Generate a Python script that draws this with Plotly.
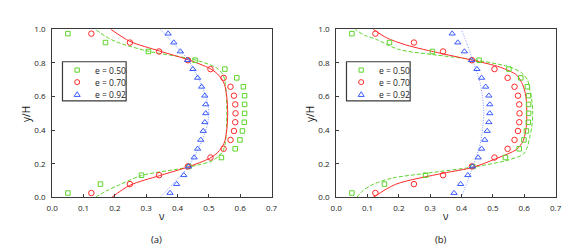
import plotly.graph_objects as go

# ---------------- data ----------------
labels = ["e = 0.50", "e = 0.70", "e = 0.92"]

# experimental points (same in both panels), listed bottom to top
y_exp = [0.026, 0.079, 0.132, 0.184, 0.237, 0.289, 0.342, 0.395, 0.447, 0.500,
         0.553, 0.605, 0.658, 0.711, 0.763, 0.816, 0.868, 0.921, 0.974]
v_exp_050 = [0.050, 0.154, 0.285, 0.436, 0.540, 0.584, 0.599, 0.607, 0.613, 0.614,
             0.614, 0.614, 0.610, 0.589, 0.551, 0.456, 0.307, 0.170, 0.050]
v_exp_070 = [0.125, 0.248, 0.341, 0.433, 0.505, 0.547, 0.569, 0.580, 0.584, 0.585,
             0.584, 0.580, 0.569, 0.547, 0.505, 0.433, 0.341, 0.248, 0.125]
v_exp_092 = [0.376, 0.397, 0.420, 0.435, 0.453, 0.464, 0.474, 0.482, 0.487, 0.490,
             0.490, 0.487, 0.477, 0.464, 0.449, 0.432, 0.409, 0.388, 0.370]

# model curves, panel (a)
ya_050 = [0.00, 0.04, 0.075, 0.13, 0.18, 0.22, 0.27, 0.32, 0.40, 0.50,
          0.60, 0.68, 0.73, 0.77, 0.82, 0.87, 0.925, 0.96, 1.00]
va_050 = [0.138, 0.175, 0.215, 0.285, 0.435, 0.513, 0.543, 0.552, 0.556, 0.557,
          0.556, 0.552, 0.545, 0.525, 0.452, 0.305, 0.205, 0.168, 0.138]
ya_070 = [0.00, 0.072, 0.129, 0.182, 0.233, 0.265, 0.295, 0.33, 0.40, 0.50,
          0.60, 0.67, 0.705, 0.735, 0.767, 0.818, 0.871, 0.928, 1.00]
va_070 = [0.190, 0.248, 0.342, 0.435, 0.503, 0.527, 0.540, 0.550, 0.557, 0.560,
          0.557, 0.550, 0.540, 0.527, 0.503, 0.435, 0.342, 0.248, 0.187]
ya_092 = [0.00, 0.09, 0.18, 0.235, 0.29, 0.34, 0.40, 0.45, 0.50,
          0.55, 0.60, 0.66, 0.71, 0.765, 0.818, 0.91, 1.00]
va_092 = [0.345, 0.390, 0.434, 0.451, 0.466, 0.479, 0.490, 0.497, 0.500,
          0.497, 0.490, 0.479, 0.466, 0.451, 0.434, 0.390, 0.345]

# model curves, panel (b)
yb_050 = [0.00, 0.04, 0.078, 0.115, 0.144, 0.18, 0.22, 0.257, 0.30, 0.352, 0.42, 0.50,
          0.58, 0.648, 0.70, 0.74, 0.775, 0.82, 0.85, 0.88, 0.94, 0.965, 1.00]
vb_050 = [0.066, 0.085, 0.118, 0.180, 0.290, 0.435, 0.545, 0.597, 0.610, 0.617, 0.624, 0.627,
          0.624, 0.617, 0.610, 0.592, 0.555, 0.435, 0.305, 0.200, 0.128, 0.090, 0.060]
yb_070 = [0.00, 0.078, 0.144, 0.178, 0.229, 0.286, 0.33, 0.371, 0.43, 0.50,
          0.57, 0.63, 0.67, 0.727, 0.774, 0.816, 0.856, 0.907, 0.95, 1.00]
vb_070 = [0.118, 0.190, 0.342, 0.435, 0.508, 0.576, 0.595, 0.602, 0.607, 0.608,
          0.607, 0.602, 0.595, 0.576, 0.524, 0.435, 0.336, 0.222, 0.160, 0.118]
yb_092 = [0.00, 0.09, 0.178, 0.25, 0.30, 0.38, 0.50, 0.62, 0.70, 0.75, 0.818, 0.91, 1.00]
vb_092 = [0.399, 0.418, 0.435, 0.448, 0.457, 0.465, 0.471, 0.465, 0.457, 0.448, 0.435, 0.418, 0.399]

x_ticks = [0.0, 0.1, 0.2, 0.3, 0.4, 0.5, 0.6, 0.7]
y_ticks = [0.0, 0.2, 0.4, 0.6, 0.8, 1.0]
panel_labels = ["(a)", "(b)"]

# ---------------- styling ----------------
W, H = 581, 245
GREEN = "#5ed42c"
RED = "#ff2a2a"
BLUE = "#3a5cff"
BLUE_LINE = "#7d97ff"
AXC = "#3a3a3a"
FONT = "Open Sans"

def px(x):
    return x / W

def py(y):
    return 1 - y / H

fig = go.Figure()

panels = [
    dict(xa="x", ya="y", curves=[(ya_050, va_050), (ya_070, va_070), (ya_092, va_092)]),
    dict(xa="x2", ya="y2", curves=[(yb_050, vb_050), (yb_070, vb_070), (yb_092, vb_092)]),
]
exp_sets = [v_exp_050, v_exp_070, v_exp_092]
marker_styles = [
    dict(symbol="square-open", size=4.5, color=GREEN, line=dict(width=1, color=GREEN)),
    dict(symbol="circle-open", size=5.5, color=RED, line=dict(width=1, color=RED)),
    dict(symbol="triangle-up-open", size=5.5, color=BLUE, line=dict(width=1, color=BLUE)),
]
line_styles = [
    dict(color=GREEN, width=1, dash="4px,2px", shape="spline", smoothing=0.8),
    dict(color=RED, width=1, dash="solid", shape="spline", smoothing=0.8),
    dict(color=BLUE_LINE, width=1, dash="1px,1.5px", shape="spline", smoothing=0.8),
]

for p in panels:
    for k in range(3):
        yy, vv = p["curves"][k]
        fig.add_trace(go.Scatter(x=vv, y=yy, mode="lines", line=line_styles[k],
                                 xaxis=p["xa"], yaxis=p["ya"], showlegend=False,
                                 hoverinfo="skip", name=labels[k] + " model"))
    for k in range(3):
        fig.add_trace(go.Scatter(x=exp_sets[k], y=y_exp, mode="markers",
                                 marker=marker_styles[k], xaxis=p["xa"], yaxis=p["ya"],
                                 showlegend=False, name=labels[k]))

axis_common = dict(showline=True, mirror=True, linecolor=AXC, linewidth=1,
                   ticks="inside", ticklen=3, tickcolor=AXC, tickwidth=1,
                   showgrid=False, zeroline=False, tickformat=".1f",
                   tickfont=dict(family=FONT, size=8, color="#1a1a1a"))

plot_x = [(39, 263), (329, 553)]
plot_y = (16, 192)
ydom = [py(plot_y[1]), py(plot_y[0])]

fig.update_layout(
    width=W, height=H, margin=dict(l=0, r=0, t=0, b=0),
    paper_bgcolor="white", plot_bgcolor="white",
    xaxis=dict(domain=[px(plot_x[0][0]), px(plot_x[0][1])], range=[0, 0.7],
               tickvals=x_ticks, anchor="y", ticklabelstandoff=3, **axis_common),
    yaxis=dict(domain=ydom, range=[0, 1], tickvals=y_ticks, anchor="x",
               ticklabelstandoff=4, **axis_common),
    xaxis2=dict(domain=[px(plot_x[1][0]), px(plot_x[1][1])], range=[0, 0.7],
                tickvals=x_ticks, anchor="y2", ticklabelstandoff=3, **axis_common),
    yaxis2=dict(domain=ydom, range=[0, 1], tickvals=y_ticks, anchor="x2",
                ticklabelstandoff=4, **axis_common),
)

annotations = []
shapes = []
mk_colors = [GREEN, RED, BLUE]
for i, (x0, x1) in enumerate(plot_x):
    cx = (x0 + x1) / 2
    # axis titles
    annotations.append(dict(text="ν", x=px(cx), y=py(211), xref="paper", yref="paper",
                            showarrow=False, font=dict(family=FONT, size=10, color="#111"),
                            xanchor="center", yanchor="middle"))
    annotations.append(dict(text="y/H", x=px(x0 - 26), y=py(105), xref="paper", yref="paper",
                            showarrow=False, textangle=-90,
                            font=dict(family=FONT, size=10, color="#111"),
                            xanchor="center", yanchor="middle"))
    annotations.append(dict(text=panel_labels[i], x=px(cx - 5.5), y=py(236.5), xref="paper",
                            yref="paper", showarrow=False,
                            font=dict(family=FONT, size=9.5, color="#111"),
                            xanchor="center", yanchor="middle"))
    # legend box
    lx0 = x0 + 10.5
    lx1 = lx0 + 65
    shapes.append(dict(type="rect", xref="paper", yref="paper",
                       x0=px(lx0), x1=px(lx1), y0=py(91), y1=py(50),
                       line=dict(color=AXC, width=1.2), fillcolor="white", layer="above"))
    rows = [58.7, 71.3, 84.3]
    mx = lx0 + 15
    for k in range(3):
        ry = rows[k]
        c = mk_colors[k]
        if k == 0:
            shapes.append(dict(type="rect", xref="paper", yref="paper",
                               x0=px(mx - 2.2), x1=px(mx + 2.2), y0=py(ry + 2.2), y1=py(ry - 2.2),
                               line=dict(color=c, width=1), layer="above"))
        elif k == 1:
            shapes.append(dict(type="circle", xref="paper", yref="paper",
                               x0=px(mx - 2.6), x1=px(mx + 2.6), y0=py(ry + 2.6), y1=py(ry - 2.6),
                               line=dict(color=c, width=1), layer="above"))
        else:
            path = "M {:.5f},{:.5f} L {:.5f},{:.5f} L {:.5f},{:.5f} Z".format(
                px(mx - 3.1), py(ry + 2.0), px(mx + 3.1), py(ry + 2.0), px(mx), py(ry - 2.9))
            shapes.append(dict(type="path", xref="paper", yref="paper", path=path,
                               line=dict(color=c, width=1), layer="above"))
        annotations.append(dict(text=labels[k], x=px(mx + 16), y=py(ry), xref="paper",
                                yref="paper", showarrow=False, xanchor="left", yanchor="middle",
                                font=dict(family=FONT, size=8.5, color="#222")))

fig.update_layout(annotations=annotations, shapes=shapes)
fig.write_html("out.html")
